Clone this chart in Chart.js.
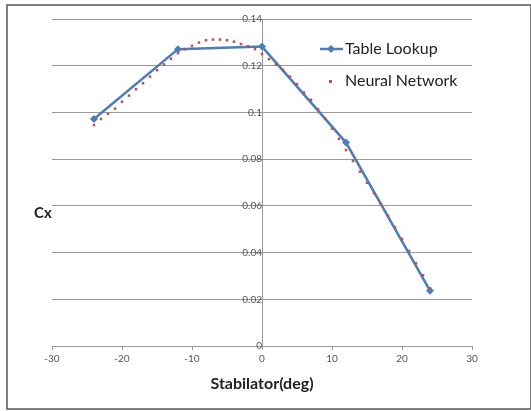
<!DOCTYPE html>
<html>
<head>
<meta charset="utf-8">
<script src="https://cdn.jsdelivr.net/npm/chart.js@4.4.1/dist/chart.umd.min.js"></script>
<style>
  html, body { margin: 0; padding: 0; background: #fff; }
  #wrap { width: 531px; height: 411px; }
</style>
</head>
<body>
<div id="wrap"><canvas id="cxChart" width="531" height="411"></canvas></div>
<script>
// stabilator deflection (deg) vs Cx
const lookupDeg = [-24, -12, 0, 12, 24];
const lookupCx = [0.0972, 0.1271, 0.1282, 0.0871, 0.0237];

const nnDeg = [-24, -23, -22, -21, -20, -19, -18, -17, -16, -15, -14, -13, -12, -11, -10, -9, -8, -7, -6, -5, -4, -3, -2, -1,
  0, 1, 2, 3, 4, 5, 6, 7, 8, 9, 10, 11, 12, 13, 14, 15, 16, 17, 18, 19, 20, 21, 22, 23, 24];
const nnCx = [0.0946, 0.0972, 0.0994, 0.1016, 0.1046, 0.1072, 0.1099, 0.1125, 0.1153, 0.1181, 0.1205, 0.1230, 0.1254, 0.1271,
  0.1285, 0.1299, 0.1309, 0.1312, 0.1312, 0.1309, 0.1303, 0.1293, 0.1283, 0.1271,
  0.1250, 0.1228, 0.1206, 0.1182, 0.1153, 0.1121, 0.1085, 0.1054, 0.1014, 0.0975, 0.0931, 0.0887, 0.0839,
  0.0792, 0.0746, 0.0699, 0.0654, 0.0608, 0.0558, 0.0508, 0.0458, 0.0407, 0.0354, 0.0303, 0.0247];

const seriesNames = ['Table Lookup', 'Neural Network'];
const blue = '#4a7ebb';
const red = '#c0504d';
const fontFam = 'Lato, "Open Sans", sans-serif';

const pts = (xs, ys) => xs.map((x, i) => ({ x: x, y: ys[i] }));

// frame, y axis title and the in-plot legend
const extras = {
  id: 'extras',
  beforeDraw(chart) {
    const c = chart.ctx;
    c.save();
    c.fillStyle = '#fff';
    c.fillRect(0, 0, chart.width, chart.height);
    c.restore();
  },
  afterDraw(chart) {
    const c = chart.ctx;
    c.save();
    c.strokeStyle = '#555';
    c.lineWidth = 1.5;
    c.strokeRect(7, 5, 524, 404);

    c.fillStyle = '#222';
    c.font = 'bold 15px ' + fontFam;
    c.textAlign = 'center';
    c.textBaseline = 'middle';
    c.fillText('Cx', 43, 213);

    // legend
    c.font = '16px ' + fontFam;
    c.textAlign = 'left';
    c.strokeStyle = blue;
    c.lineWidth = 2.5;
    c.beginPath();
    c.moveTo(320, 49);
    c.lineTo(343, 49);
    c.stroke();
    c.fillStyle = blue;
    c.beginPath();
    c.moveTo(331, 45); c.lineTo(335, 49); c.lineTo(331, 53); c.lineTo(327, 49);
    c.closePath();
    c.fill();
    c.fillStyle = '#222';
    c.fillText(seriesNames[0], 345, 49);

    c.fillStyle = red;
    c.fillRect(329, 80, 3, 3);
    c.fillStyle = '#222';
    c.fillText(seriesNames[1], 345, 81);
    c.restore();
  }
};

new Chart(document.getElementById('cxChart'), {
  type: 'scatter',
  data: {
    datasets: [
      {
        label: seriesNames[0],
        data: pts(lookupDeg, lookupCx),
        showLine: true,
        borderColor: blue,
        backgroundColor: blue,
        borderWidth: 2.5,
        pointStyle: 'rectRot',
        pointRadius: 4,
        pointBorderWidth: 0,
        order: 2
      },
      {
        label: seriesNames[1],
        data: pts(nnDeg, nnCx),
        showLine: false,
        backgroundColor: red,
        borderColor: red,
        pointStyle: 'rect',
        pointRadius: 1.8,
        pointBorderWidth: 0,
        order: 1
      }
    ]
  },
  options: {
    responsive: false,
    animation: false,
    layout: { padding: { left: 52, right: 59, top: 19, bottom: 0 } },
    plugins: {
      legend: { display: false },
      tooltip: { enabled: false }
    },
    scales: {
      x: {
        type: 'linear',
        min: -30,
        max: 30,
        ticks: { stepSize: 10, color: '#555', font: { size: 10, family: fontFam }, padding: 3 },
        grid: { drawOnChartArea: false, color: '#999', tickLength: 4 },
        border: { color: '#999' },
        title: {
          display: true,
          text: 'Stabilator(deg)',
          color: '#222',
          font: { size: 16, weight: 'bold', family: fontFam },
          padding: { top: 8, bottom: 18 }
        },
        afterFit(scale) { scale.height = 65; }
      },
      y: {
        type: 'linear',
        min: 0,
        max: 0.14,
        position: { x: 0 },
        ticks: {
          stepSize: 0.02,
          color: '#555',
          font: { size: 10, family: fontFam },
          padding: 1,
          callback: v => +v.toFixed(2)
        },
        grid: { color: '#999', tickLength: 4 },
        border: { color: '#999' }
      }
    }
  },
  plugins: [extras]
});
</script>
</body>
</html>
